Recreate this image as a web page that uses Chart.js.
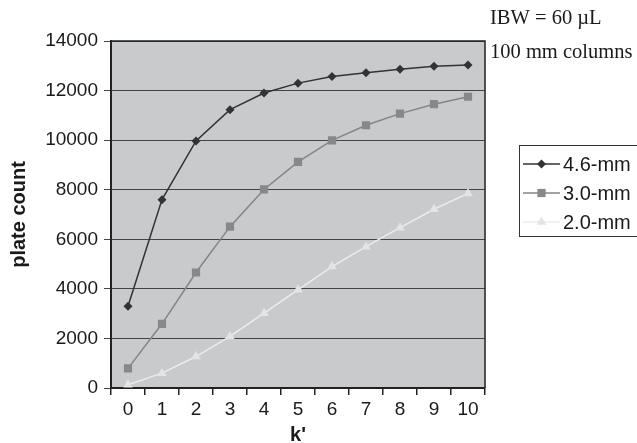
<!DOCTYPE html>
<html>
<head>
<meta charset="utf-8">
<script src="https://cdn.jsdelivr.net/npm/chart.js@4.4.1/dist/chart.umd.min.js"></script>
<style>
  html, body { margin: 0; padding: 0; background: #fff; }
  canvas { display: block; }
</style>
</head>
<body>
<canvas id="chart-area" width="637" height="443"></canvas>
<script>
(function () {
  'use strict';

  var kPrime = ['0', '1', '2', '3', '4', '5', '6', '7', '8', '9', '10'];
  var col46 = [3300, 7600, 9970, 11230, 11900, 12300, 12570, 12720, 12860, 12980, 13030];
  var col30 = [790, 2590, 4660, 6510, 8010, 9120, 9990, 10600, 11070, 11450, 11750];
  var col20 = [130, 600, 1270, 2080, 3020, 3960, 4900, 5700, 6470, 7210, 7850];
  var seriesNames = ['4.6-mm', '3.0-mm', '2.0-mm'];
  var notes = ['IBW = 60 \u00b5L', '100 mm columns'];

  var sans = "'Liberation Sans', Arial, sans-serif";
  var serif = "'Liberation Serif', 'Times New Roman', serif";

  function series(label, data, color, lineColor, style, radius) {
    return {
      label: label,
      data: data,
      borderColor: lineColor,
      backgroundColor: color,
      borderWidth: 1.5,
      pointStyle: style,
      pointRadius: radius,
      pointBorderWidth: 0,
      pointBackgroundColor: color,
      tension: 0
    };
  }

  // grey plot area, frame, legend box and the two notes
  var plotFrame = {
    id: 'plotFrame',
    beforeDraw: function (chart) {
      var a = chart.chartArea, ctx = chart.ctx;
      ctx.save();
      ctx.fillStyle = '#c9cacc';
      ctx.fillRect(a.left, a.top, a.right - a.left, a.bottom - a.top);
      ctx.restore();
    },
    afterDraw: function (chart) {
      var a = chart.chartArea, ctx = chart.ctx;
      ctx.save();
      ctx.strokeStyle = '#222';
      ctx.lineWidth = 1.5;
      ctx.beginPath();
      ctx.moveTo(a.left, a.top);
      ctx.lineTo(a.right, a.top);
      ctx.lineTo(a.right, a.bottom);
      ctx.stroke();

      // legend
      ctx.fillStyle = '#fff';
      ctx.fillRect(519.5, 145.5, 130, 91);
      ctx.strokeStyle = '#333';
      ctx.lineWidth = 1;
      ctx.strokeRect(519.5, 145.5, 130, 91);
      var rows = [164, 193, 222];
      ctx.font = '20px ' + sans;
      ctx.textBaseline = 'middle';
      chart.data.datasets.forEach(function (ds, i) {
        var y = rows[i];
        ctx.strokeStyle = ds.borderColor;
        ctx.lineWidth = 1.5;
        ctx.beginPath();
        ctx.moveTo(523, y);
        ctx.lineTo(560, y);
        ctx.stroke();
        ctx.fillStyle = ds.pointBackgroundColor;
        Chart.helpers.drawPoint(ctx, {
          pointStyle: ds.pointStyle,
          radius: ds.pointRadius,
          borderWidth: 0,
          rotation: 0
        }, 541.5, y);
        ctx.fillStyle = '#1a1a1a';
        ctx.textAlign = 'left';
        ctx.fillText(seriesNames[i], 563, y + 1);
      });

      // notes
      ctx.fillStyle = '#1a1a1a';
      ctx.font = '20.5px ' + serif;
      ctx.textBaseline = 'alphabetic';
      ctx.fillText(notes[0], 490, 24);
      ctx.fillText(notes[1], 490, 58);
      ctx.restore();
    }
  };

  var ctx = document.getElementById('chart-area').getContext('2d');
  window.plateChart = new Chart(ctx, {
    type: 'line',
    data: {
      labels: kPrime,
      datasets: [
        series(seriesNames[0], col46, '#333333', '#333333', 'rectRot', 4.5),
        series(seriesNames[1], col30, '#888888', '#858585', 'rect', 5.8),
        series(seriesNames[2], col20, '#e4e4e4', '#ececec', 'triangle', 5.5)
      ]
    },
    options: {
      responsive: false,
      animation: false,
      devicePixelRatio: 1,
      layout: { padding: { left: 0, right: 152, top: 41, bottom: 0 } },
      plugins: {
        legend: { display: false },
        tooltip: { enabled: false }
      },
      scales: {
        x: {
          offset: true,
          afterFit: function (scale) { scale.height = 55; },
          border: { display: true, color: '#222', width: 2 },
          grid: {
            offset: true,
            drawOnChartArea: false,
            drawTicks: true,
            tickLength: 7,
            color: '#222',
            lineWidth: 1.5
          },
          ticks: {
            padding: 3,
            color: '#1a1a1a',
            font: { family: sans, size: 19 },
            maxRotation: 0
          },
          title: {
            display: true,
            text: "k'",
            color: '#1a1a1a',
            font: { family: sans, size: 20, weight: 'bold', lineHeight: 1 },
            padding: { top: 0, bottom: -2 }
          }
        },
        y: {
          min: 0,
          max: 14000,
          afterFit: function (scale) { scale.width = 111; },
          border: { display: true, color: '#222', width: 2 },
          grid: {
            drawOnChartArea: true,
            drawTicks: true,
            tickLength: 7,
            color: '#444',
            lineWidth: 1
          },
          ticks: {
            stepSize: 2000,
            padding: 6,
            color: '#1a1a1a',
            font: { family: sans, size: 19 },
            callback: function (value) { return String(value); }
          },
          title: {
            display: true,
            text: 'plate count',
            color: '#1a1a1a',
            font: { family: sans, size: 20, weight: 'bold', lineHeight: 1 },
            padding: { top: 9, bottom: 0 }
          }
        }
      }
    },
    plugins: [plotFrame]
  });
})();
</script>
</body>
</html>
